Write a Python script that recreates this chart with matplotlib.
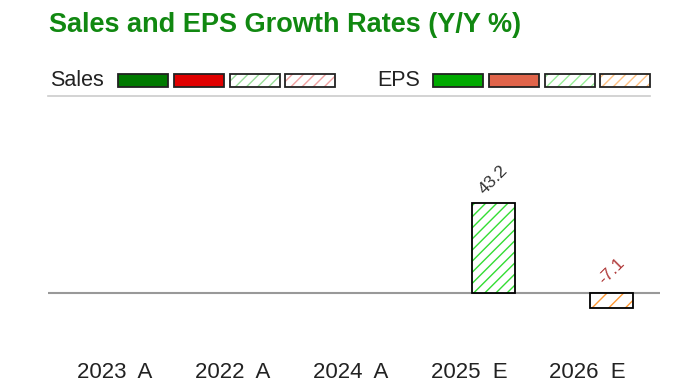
import matplotlib.pyplot as plt
import matplotlib.patches as mpatches
import numpy as np

plt.rcParams.update({'font.family': ['Liberation Sans', 'DejaVu Sans']})

#%% data
categories = ['2023  A', '2022  A', '2024  A', '2025  E', '2026  E']
sales_growth = [np.nan, np.nan, np.nan, np.nan, np.nan]
eps_growth = [np.nan, np.nan, np.nan, 43.2, -7.1]

#%% figure
W, H = 700, 387
fig = plt.figure(figsize=(W/100, H/100), dpi=100)

def fx(px):
    return px / W

def fy(py):
    return 1 - py / H

ax = fig.add_axes([fx(48), fy(340), fx(660) - fx(48), fy(100) - fy(340)])

xx = np.arange(len(categories))
width = 0.364
off = 0.208

for i, v in enumerate(eps_growth):
    if np.isnan(v):
        continue
    col = '#33dd33' if v >= 0 else '#ff9933'
    hatch = '///' if v >= 0 else '//'
    ax.bar(xx[i] + off, v, width, color='white', edgecolor=col, hatch=hatch, linewidth=0)
    ax.bar(xx[i] + off, v, width, fill=False, edgecolor='black', linewidth=1.3)
    tcol = '#333333' if v >= 0 else '#b03a3a'
    ax.annotate('%.1f' % v, (xx[i] + off, max(v, 0)), xytext=(0, 4),
                textcoords='offset points', ha='center', va='bottom',
                rotation=45, fontsize=12.5, color=tcol)

ax.axhline(0, color='#999999', linewidth=1.5, zorder=0)
ax.set_xlim(-0.568, 4.619)
ax.set_ylim(-22.6, 92.6)
ax.set_xticks(xx)
ax.set_xticklabels(categories, fontsize=16, color='#222222')
ax.tick_params(axis='x', length=0, pad=16)
ax.set_yticks([])
for s in ax.spines.values():
    s.set_visible(False)

#%% title and legend row
fig.text(fx(49), fy(25), 'Sales and EPS Growth Rates (Y/Y %)', fontsize=19.5,
         fontweight='bold', color='#118811', ha='left', va='center')

fig.text(fx(50), fy(80), 'Sales', fontsize=15.5, color='#222222', ha='left', va='center')
fig.text(fx(377), fy(80), 'EPS', fontsize=15.5, color='#222222', ha='left', va='center')

sw_sales = [(118, '#007a00', None), (174, '#e00000', None),
            (230, '#99dd99', '///'), (285, '#f0a0a0', '///')]
sw_eps = [(433, '#00aa00', None), (489, '#e0644a', None),
          (545, '#99ee99', '///'), (600, '#ffc080', '///')]
for x0, c, h in sw_sales + sw_eps:
    if h is None:
        fig.patches.append(mpatches.Rectangle((fx(x0), fy(87)), fx(50), 13/H,
                           facecolor=c, edgecolor='#222222', linewidth=1.3,
                           transform=fig.transFigure))
    else:
        fig.patches.append(mpatches.Rectangle((fx(x0), fy(87)), fx(50), 13/H,
                           facecolor='white', edgecolor=c, hatch=h, linewidth=0,
                           transform=fig.transFigure))
        fig.patches.append(mpatches.Rectangle((fx(x0), fy(87)), fx(50), 13/H,
                           fill=False, edgecolor='#222222', linewidth=1.3,
                           transform=fig.transFigure))

fig.lines.append(plt.Line2D([fx(48), fx(650)], [fy(96), fy(96)], color='#cccccc',
                            linewidth=1.2, transform=fig.transFigure))

fig.savefig('out.png', dpi=100)
